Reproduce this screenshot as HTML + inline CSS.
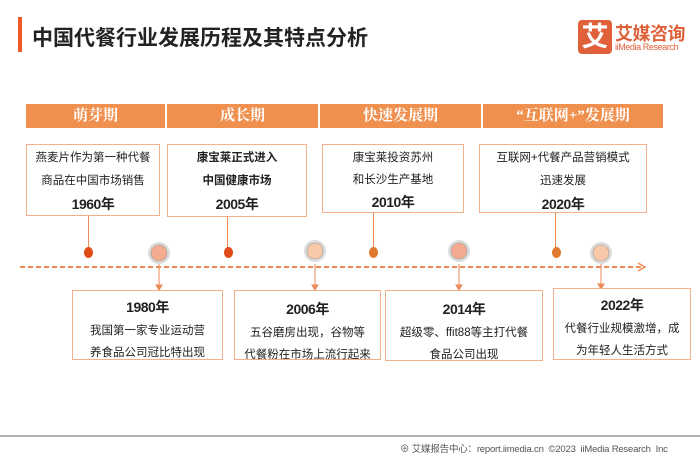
<!DOCTYPE html>
<html><head><meta charset="utf-8"><style>
body{margin:0;width:700px;height:455px;background:#fff;position:relative;overflow:hidden;font-family:"Liberation Sans","Noto Sans CJK SC",sans-serif;color:#222}
.a{position:absolute}
.hd{position:absolute;top:104px;height:24px;background:#f0904f;color:#fff;font-family:"Liberation Serif","Noto Serif CJK SC",serif;font-size:15px;font-weight:bold;line-height:24px;text-align:center}
.bx{position:absolute;border:1.5px solid #f3b08a;box-sizing:border-box;text-align:center;font-size:11.5px;line-height:26px;background:#fff}
.y{font-size:14px;font-weight:bold;letter-spacing:-0.5px}
.dot{position:absolute;width:9px;height:11px;border-radius:50%;margin-left:-4.5px;top:247px}
.vl{position:absolute;width:1px;background:#ee8a55}
</style></head><body>
<div class="a" style="left:18px;top:17px;width:4px;height:35px;background:#f05a28"></div>
<div class="a" style="left:32px;top:22px;font-size:21px;font-weight:bold;color:#222">中国代餐行业发展历程及其特点分析</div>
<div class="a" style="left:578px;top:20px;width:34px;height:34px;background:#e0603a;border-radius:4px;color:#fff;font-size:27px;font-weight:bold;text-align:center;line-height:34px">艾</div>
<div class="a" style="left:615px;top:20px;font-size:18px;font-weight:bold;color:#e0603a;letter-spacing:-0.5px">艾媒咨询</div>
<div class="a" style="left:615px;top:42px;font-size:9px;color:#e0603a;letter-spacing:-0.4px">iiMedia Research</div>

<div class="hd" style="left:26px;width:139px">萌芽期</div>
<div class="hd" style="left:167px;width:151px">成长期</div>
<div class="hd" style="left:320px;width:161px">快速发展期</div>
<div class="hd" style="left:483px;width:180px">“互联网+”发展期</div>

<div class="bx" style="left:26px;top:144px;width:134px;height:72px;padding-top:2px;line-height:23px">燕麦片作为第一种代餐<br>商品在中国市场销售<br><span class="y">1960年</span></div>
<div class="bx" style="left:167px;top:144px;width:140px;height:73px;padding-top:2px;line-height:23px;font-weight:bold">康宝莱正式进入<br>中国健康市场<br><span class="y">2005年</span></div>
<div class="bx" style="left:322px;top:144px;width:142px;height:69px;padding-top:2px;line-height:22px">康宝莱投资苏州<br>和长沙生产基地<br><span class="y">2010年</span></div>
<div class="bx" style="left:479px;top:144px;width:168px;height:69px;padding-top:2px;line-height:23px">互联网+代餐产品营销模式<br>迅速发展<br><span class="y">2020年</span></div>

<div class="vl" style="left:88px;top:216px;height:34px"></div>
<div class="vl" style="left:227px;top:217px;height:33px"></div>
<div class="vl" style="left:373px;top:213px;height:37px"></div>
<div class="vl" style="left:555px;top:213px;height:37px"></div>
<div class="dot" style="left:88px;background:#e04b18"></div>
<div class="dot" style="left:228px;background:#e04b18"></div>
<div class="dot" style="left:373px;background:#e07a30"></div>
<div class="dot" style="left:556px;background:#e07a30"></div>

<svg class="a" style="left:0;top:0" width="700" height="455">
<line x1="20" y1="267" x2="642" y2="267" stroke="#ee8a55" stroke-width="2" stroke-dasharray="5,3"/>
<polyline points="638,263 645,267 638,271" fill="none" stroke="#ee8a55" stroke-width="1.5"/>
<g stroke="#ee8a55" fill="#ee8a55">
<line x1="159" y1="264" x2="159" y2="287"/><polygon points="156,285 162,285 159,290"/>
<line x1="315" y1="264" x2="315" y2="287"/><polygon points="312,285 318,285 315,290"/>
<line x1="459" y1="264" x2="459" y2="287"/><polygon points="456,285 462,285 459,290"/>
<line x1="601" y1="264" x2="601" y2="286"/><polygon points="598,284 604,284 601,289"/>
</g>
<g stroke="#999" stroke-width="0.6">
<circle cx="159" cy="253" r="11" fill="#dcdcdc" stroke="none"/><circle cx="159" cy="253" r="8" fill="#f4ab90"/>
<circle cx="315" cy="251" r="11" fill="#dcdcdc" stroke="none"/><circle cx="315" cy="251" r="8" fill="#f8c9a8"/>
<circle cx="459" cy="251" r="11" fill="#dcdcdc" stroke="none"/><circle cx="459" cy="251" r="8" fill="#f4ab90"/>
<circle cx="601" cy="253" r="11" fill="#dcdcdc" stroke="none"/><circle cx="601" cy="253" r="8" fill="#f8c9a8"/>
</g>
<line x1="0" y1="436" x2="700" y2="436" stroke="#999" stroke-width="1.5"/>
</svg>

<div class="bx" style="left:72px;top:290px;width:151px;height:70px;line-height:22px;padding-top:5px"><span class="y">1980年</span><br>我国第一家专业运动营<br>养食品公司冠比特出现</div>
<div class="bx" style="left:234px;top:290px;width:147px;height:70px;line-height:22px;padding-top:7px"><span class="y">2006年</span><br>五谷磨房出现，谷物等<br>代餐粉在市场上流行起来</div>
<div class="bx" style="left:385px;top:290px;width:158px;height:71px;line-height:22px;padding-top:7px"><span class="y">2014年</span><br>超级零、ffit88等主打代餐<br>食品公司出现</div>
<div class="bx" style="left:553px;top:288px;width:138px;height:72px;line-height:22px;padding-top:5px"><span class="y">2022年</span><br>代餐行业规模激增，成<br>为年轻人生活方式</div>

<div class="a" style="left:400px;top:441px;font-size:9.5px;color:#555;letter-spacing:-0.2px">⊕ 艾媒报告中心：report.iimedia.cn &nbsp;©2023 &nbsp;iiMedia Research &nbsp;Inc</div>
</body></html>
